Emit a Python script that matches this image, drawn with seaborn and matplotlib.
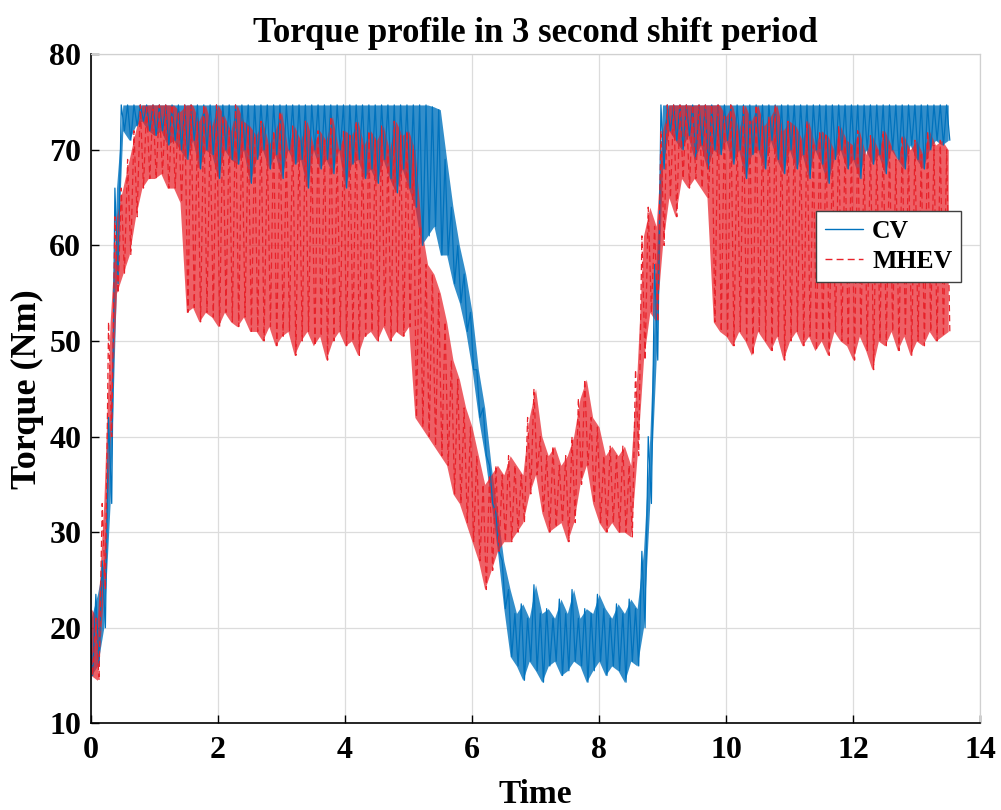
import numpy as np
import pandas as pd
import matplotlib
matplotlib.use("Agg")
import matplotlib.pyplot as plt
import seaborn as sns
from matplotlib.lines import Line2D

# ---------------------------------------------------------------------------
# Torque traces, sampled every 0.1 s: local peak (hi) and trough (lo) values
# ---------------------------------------------------------------------------
time = np.round(np.arange(136) * 0.1, 1)

cv_hi = ([21, 23.5, 27, 42, 66] + [74.7] * 9 + [74.7] * 37
         + [74.7, 74.7, 74.7, 74.5, 74.2] + [69]
         + [64, 60, 57, 53, 47, 43, 37, 32, 27, 24]
         + [21.5, 22.5, 21, 24.5, 21.5, 22, 21, 23, 21.5, 24,
            21, 22, 21.5, 23.5, 22, 21, 22.5, 21.5, 23, 22]
         + [28, 40, 58, 74.7] + [74.7] * 45)

cv_lo = ([15, 16, 20, 33, 56]
         + [72, 71, 72.5, 73, 72, 71.5, 72, 70.5, 71]
         + [70, 69, 71, 68, 70, 69.5, 67, 70, 69, 68.5, 70, 66.5, 69, 70, 68,
            69.5, 67, 70, 68.5, 69, 66, 70, 68, 69, 67.5, 70, 66, 68.5, 69, 67,
            68, 66.5, 69, 67, 65.5, 68, 66]
         + [64, 60, 61, 62, 59] + [59]
         + [56, 54, 51, 47, 42, 38, 33, 28, 22, 17]
         + [16, 14.5, 16.5, 15.5, 14.3, 16, 16.5, 15, 15.5, 16.5,
            16, 14.3, 15.5, 16.5, 15, 16, 15.5, 14.3, 16.5, 16]
         + [20, 33, 48, 68]
         + [72, 71, 70, 71.5, 69, 70.5, 68, 70, 69.5, 71, 68.5, 70, 67, 69.5,
            70, 68, 71, 69, 67.5, 70, 68, 69.5, 67, 70, 68.5, 66.5, 69, 70, 68,
            69, 67, 70, 68.5, 69.5, 67.5, 70, 69, 68, 70.5, 69, 68, 70, 71,
            70.5, 71])

mhev_hi = ([22, 21, 33, 52, 63, 66, 69, 72, 74.7, 74.7, 74.7, 74.7, 74.7, 74.7]
           + [74]
           + [74.7, 74.7, 73, 74.7, 72.5, 74.7, 73.5, 72, 74.7, 73, 72.5,
              71.5, 73, 70.5, 72, 74, 70, 72.5, 71, 73, 70.5, 72, 71, 73.5,
              70, 72, 71.5, 73, 70.5, 72, 71, 72.5, 70, 73, 71.5, 72]
           + [70, 62, 58, 57, 55, 52, 48, 46, 43, 41, 38, 35, 36, 37, 36, 38]
           + [37, 36, 42, 45, 40, 38, 39, 37, 38, 40, 44, 46, 42, 41, 38, 39,
              38, 39, 37, 47]
           + [61, 64, 62, 72, 74.7, 74.7, 74.7, 74.7, 74.7, 74.7, 74.7]
           + [74.7, 74.7, 73.5, 74.7, 72, 74.7, 73, 74.7, 72.5, 73.5, 74.7, 72,
              73, 72.5, 71, 73, 70.5, 72, 71.5, 70, 72.5, 71, 70.5, 72, 69.5,
              71.5, 70, 72, 70.5, 69, 71.5, 70, 71, 69.5, 72, 70.5, 71, 70])

mhev_lo = ([15, 14.5, 24, 40, 55, 57, 59, 63, 66, 67, 67, 67.5, 66, 66, 64.5]
           + [53, 53.5, 52, 53, 52.5, 51.5, 53, 52, 51.5, 52.5, 51,
              51, 50, 51.5, 49.5, 50.5, 51, 48.5, 50, 51, 49.5, 50.5, 48, 50,
              51, 49.5, 50, 48.5,
              50.5, 51, 50, 51.5, 50, 51, 50.5, 51.5]
           + [42, 41, 40, 39, 38, 37, 34, 33, 31, 29, 27, 24, 26, 28, 29, 29]
           + [30, 31, 34, 36, 32, 30, 30.5, 31, 29, 31, 35, 37, 33, 31, 30, 31,
              30, 30, 29.5, 38]
           + [48, 53, 52, 60, 65, 63, 67, 66, 67, 66, 65]
           + [52, 51, 50.5, 49.5, 51, 50, 48.5, 51, 50, 49, 50.5, 48, 50, 51,
              49.5, 50.5, 49, 50, 48.5, 51, 50, 49.5, 48, 50.5, 49, 47, 50,
              49.5, 51, 49, 50.5, 48.5, 50, 49.5, 51, 50, 50.5, 51])

series_names = ["CV", "MHEV"]
x_ticks = list(range(0, 15, 2))
y_ticks = list(range(10, 81, 10))

CV_COLOR = "#0072BD"
MHEV_COLOR = "#E8222A"
DASH = (0, (5, 3))

# ---------------------------------------------------------------------------
sns.set_theme(style="whitegrid")
plt.rcParams["font.family"] = ["Liberation Serif", "DejaVu Serif"]
plt.rcParams.update({
    "font.weight": "bold",
    "axes.labelweight": "bold",
    "axes.titleweight": "bold",
    "text.color": "black",
    "axes.labelcolor": "black",
    "xtick.color": "black",
    "ytick.color": "black",
})


def oscillation(t, hi, lo):
    """Alternate between each sample's peak and trough to trace the ripple."""
    t = np.asarray(t, float)
    x = np.column_stack([t - 0.025, t + 0.025]).ravel()
    y = np.column_stack([hi, lo]).ravel()
    return pd.DataFrame({"Time": x, "Torque": y})


fig = plt.figure(figsize=(10.01, 8.10), dpi=100)
ax = fig.add_axes([0.091, 0.107, 0.888, 0.826])

# CV: envelope band plus ripple line
ax.fill_between(time, cv_lo, cv_hi, color=CV_COLOR, alpha=0.8, lw=0)
sns.lineplot(data=oscillation(time, cv_hi, cv_lo), x="Time", y="Torque",
             sort=False, estimator=None, color=CV_COLOR, lw=0.9, ax=ax)

# MHEV: envelope band plus dashed ripple line
ax.fill_between(time, mhev_lo, mhev_hi, color=MHEV_COLOR, alpha=0.72, lw=0)
sns.lineplot(data=oscillation(time, mhev_hi, mhev_lo), x="Time", y="Torque",
             sort=False, estimator=None, color=MHEV_COLOR, lw=0.9,
             linestyle=DASH, ax=ax)

ax.set_xlim(0, 14)
ax.set_ylim(10, 80)
ax.set_xticks(x_ticks)
ax.set_yticks(y_ticks)
ax.grid(True, color="#dcdcdc", lw=0.9)
ax.set_facecolor("white")
for side in ("left", "bottom"):
    ax.spines[side].set_color("black")
    ax.spines[side].set_linewidth(1.2)
for side in ("top", "right"):
    ax.spines[side].set_color("#d0d0d0")
    ax.spines[side].set_linewidth(0.9)
ax.tick_params(axis="both", direction="in", length=6, width=1.0,
               colors="black", labelsize=23, left=True, bottom=True)
ax.tick_params(axis="y", pad=7)
ax.tick_params(axis="x", pad=9)
for lab in ax.get_xticklabels() + ax.get_yticklabels():
    lab.set_fontweight("bold")

ax.set_title("Torque profile in 3 second shift period", fontsize=25,
             fontweight="bold", pad=9, color="black")
ax.set_xlabel("Time", fontsize=24, fontweight="bold", labelpad=10)
ax.set_ylabel("Torque (Nm)", fontsize=26, fontweight="bold", labelpad=4)

handles = [Line2D([], [], color=CV_COLOR, lw=1.0),
           Line2D([], [], color=MHEV_COLOR, lw=1.0, linestyle=DASH)]
leg = ax.legend(handles, series_names, loc="upper right",
                bbox_to_anchor=(0.979, 0.765), borderaxespad=0,
                fancybox=False, framealpha=1, edgecolor="#404040",
                prop={"family": "Liberation Serif", "weight": "bold",
                      "size": 18.5},
                handlelength=1.5, handletextpad=0.35, borderpad=0.35,
                labelspacing=0.25)
leg.get_frame().set_linewidth(1.0)

fig.savefig("out.png", dpi=100)
